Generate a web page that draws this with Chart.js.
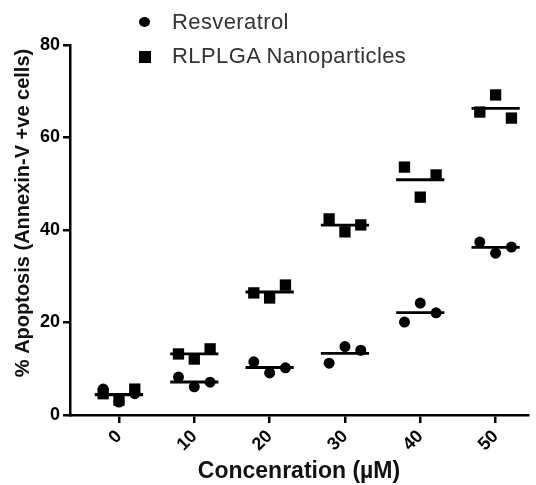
<!DOCTYPE html>
<html>
<head>
<meta charset="utf-8">
<script src="https://cdn.jsdelivr.net/npm/chart.js@4.4.1/dist/chart.umd.min.js"></script>
<style>
  html, body { margin: 0; padding: 0; background: #fff; }
  #wrap { position: relative; width: 536px; height: 485px; }
  .legend-item { position: absolute; left: 139px; height: 26px; line-height: 26px;
    font-family: "Liberation Sans", Arial, sans-serif; font-size: 22px; letter-spacing: 0.4px; color: #333; white-space: nowrap; }
  .legend-item .mark { position: absolute; left: 0; top: 8px; width: 12px; height: 12px; background: #000; }
  .legend-item .mark.circle { border-radius: 50%; top: 8px; width: 11px; height: 10px; }
  .legend-item span { position: absolute; left: 33px; top: 0; }
</style>
</head>
<body>
<div id="wrap">
  <canvas id="chart" width="536" height="485"></canvas>
  <div id="legend"></div>
</div>
<script>
// data
const concentrations = [0, 10, 20, 30, 40, 50];
const seriesLabels = ["Resveratrol", "RLPLGA Nanoparticles"];
// three replicates per concentration, ordered left / middle / right as plotted
const resveratrolValues = [
  [5.6, 2.8, 4.6],
  [8.2, 6.1, 7.1],
  [11.5, 9.1, 10.2],
  [11.2, 14.8, 14.0],
  [20.1, 24.2, 22.1],
  [37.4, 35.0, 36.3],
];
const nanoparticleValues = [
  [4.6, 3.2, 5.6],
  [13.2, 12.1, 14.3],
  [26.4, 25.3, 28.1],
  [42.4, 39.6, 41.1],
  [53.6, 47.1, 51.9],
  [65.5, 69.2, 64.2],
];
const yTicks = [0, 20, 40, 60, 80];
const xTitle = "Concenration (\u00b5M)";
const yTitle = "% Apoptosis (Annexin-V +ve cells)";

const jitter = [-2.1, 0, 2.1];
const halfLine = 3.2;

function toPoints(values) {
  return concentrations.flatMap((c, i) => values[i].map((v, j) => ({ x: c + jitter[j], y: v })));
}

function toMeanSegments(values) {
  return concentrations.flatMap((c, i) => {
    const m = values[i].reduce((a, b) => a + b, 0) / values[i].length;
    return [{ x: c - halfLine, y: m }, { x: c + halfLine, y: m }, { x: c + halfLine, y: null }];
  });
}

const fontFamily = '"Liberation Sans", Arial, sans-serif';

// y title drawn by hand, slightly above the axis centre like the original
const yTitlePlugin = {
  id: "yTitle",
  afterDraw(chart) {
    const ctx = chart.ctx;
    ctx.save();
    ctx.translate(23, 213);
    ctx.rotate(-Math.PI / 2);
    ctx.font = "bold 20px " + fontFamily;
    ctx.fillStyle = "#111";
    ctx.textAlign = "center";
    ctx.textBaseline = "middle";
    ctx.fillText(yTitle, 0, 0);
    ctx.restore();
  },
};

const cfg = {
  type: "scatter",
  data: {
    datasets: [
      {
        label: seriesLabels[0],
        data: toPoints(resveratrolValues),
        pointStyle: "circle",
        pointRadius: 5.5,
        backgroundColor: "#000",
        borderColor: "#000",
        borderWidth: 0,
      },
      {
        label: seriesLabels[1],
        data: toPoints(nanoparticleValues),
        pointStyle: "rect",
        pointRadius: 8,
        backgroundColor: "#000",
        borderColor: "#000",
        borderWidth: 0,
      },
      {
        type: "line",
        label: "mean1",
        data: toMeanSegments(resveratrolValues),
        borderColor: "#000",
        borderWidth: 2.8,
        pointRadius: 0,
        spanGaps: false,
      },
      {
        type: "line",
        label: "mean2",
        data: toMeanSegments(nanoparticleValues),
        borderColor: "#000",
        borderWidth: 2.8,
        pointRadius: 0,
        spanGaps: false,
      },
    ],
  },
  options: {
    responsive: false,
    animation: false,
    layout: { padding: { top: 45, right: 6, left: 0, bottom: 0 } },
    plugins: {
      legend: { display: false },
      tooltip: { enabled: false },
    },
    scales: {
      x: {
        type: "linear",
        min: -6.5,
        max: 54.3,
        afterFit: (scale) => { scale.height = 70; },
        afterBuildTicks: (scale) => { scale.ticks = concentrations.map((v) => ({ value: v })); },
        grid: { display: true, drawOnChartArea: false, drawTicks: true, tickLength: 8, color: "#000", lineWidth: 2.5 },
        border: { display: true, color: "#000", width: 2.5 },
        ticks: {
          minRotation: 45,
          maxRotation: 45,
          padding: 3,
          color: "#000",
          font: { family: fontFamily, size: 18, weight: "bold" },
          callback: (v) => String(v),
        },
        title: {
          display: true,
          text: xTitle,
          color: "#111",
          font: { family: fontFamily, size: 23, weight: "bold" },
          padding: { top: 0, bottom: 0 },
        },
      },
      y: {
        min: 0,
        max: 80,
        afterFit: (scale) => { scale.width = 70; },
        afterBuildTicks: (scale) => { scale.ticks = yTicks.map((v) => ({ value: v })); },
        grid: { display: true, drawOnChartArea: false, drawTicks: true, tickLength: 7, color: "#000", lineWidth: 2.5 },
        border: { display: true, color: "#000", width: 2.5 },
        ticks: {
          padding: 3,
          color: "#000",
          font: { family: fontFamily, size: 18, weight: "bold" },
        },
      },
    },
  },
  plugins: [yTitlePlugin],
};

new Chart(document.getElementById("chart"), cfg);

// html legend
const legend = document.getElementById("legend");
const legendTops = [9, 43];
seriesLabels.forEach((label, i) => {
  const item = document.createElement("div");
  item.className = "legend-item";
  item.style.top = legendTops[i] + "px";
  item.innerHTML = `<div class="mark ${i === 0 ? "circle" : ""}"></div><span>${label}</span>`;
  legend.appendChild(item);
});
</script>
</body>
</html>
